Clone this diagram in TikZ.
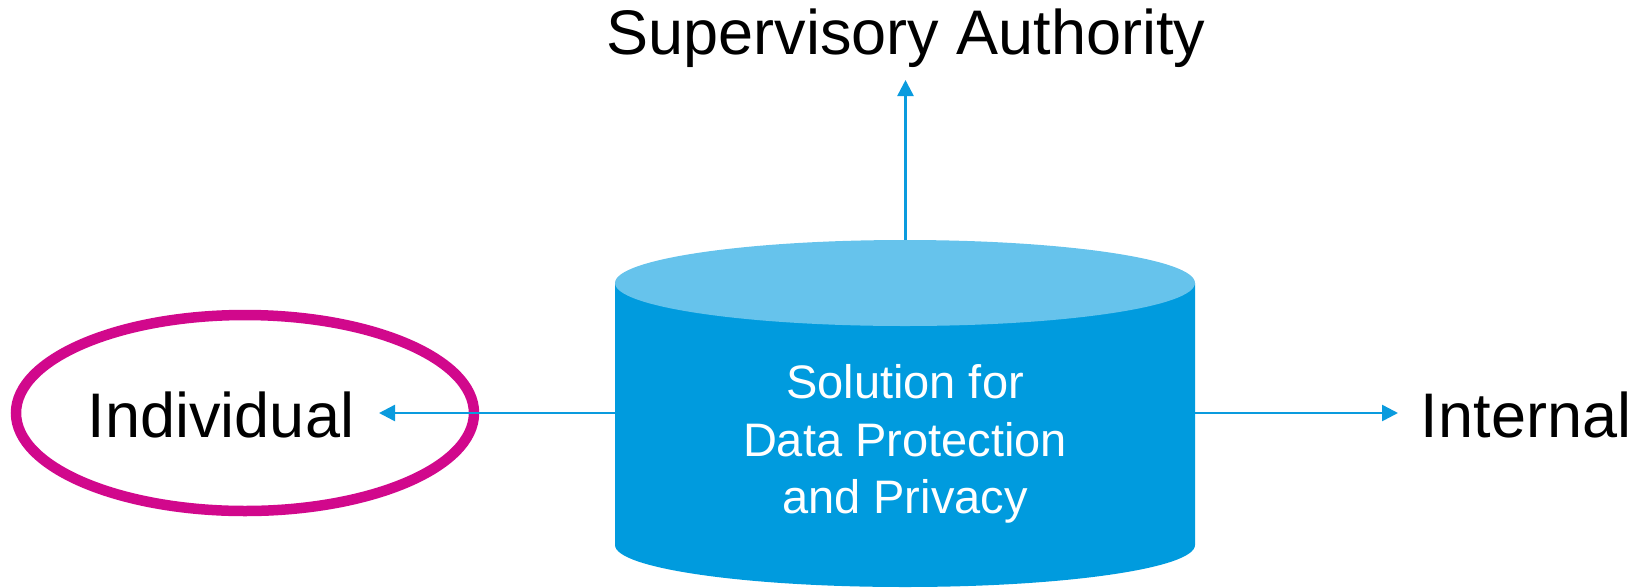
\documentclass[tikz,border=0pt]{standalone}
\usepackage{fontspec}
\setmainfont{Liberation Sans}
\usetikzlibrary{arrows.meta,shapes.geometric}
\definecolor{dbblue}{RGB}{0,155,222}
\definecolor{dbtop}{RGB}{102,195,236}
\definecolor{linkblue}{RGB}{10,155,222}
\definecolor{ringmag}{RGB}{209,8,140}
\tikzset{
  label text/.style={font=\fontsize{63}{75}\selectfont, inner sep=0pt, text=black},
  link/.style={draw=linkblue, line width=2.5pt, -{Triangle[length=16pt,width=16pt]}},
}
\begin{document}
\begin{tikzpicture}[x=1pt,y=-1pt]
\useasboundingbox (0,0) rectangle (1641,587);
% storage cylinder (y axis points down, so the lower rim runs from 180 to 0 degrees)
\fill[dbblue] (615,283) -- (615,545) arc[start angle=180,end angle=0,x radius=290,y radius=42] -- (1195,283) -- cycle;
\fill[dbtop] (905,283) ellipse[x radius=290, y radius=43];
\node[minimum width=580pt, minimum height=347pt, inner sep=0pt] (db) at (905,413.5) {};
\node[font=\fontsize{47}{57.5}\selectfont, text=white, align=center, inner sep=0pt] (dbtext) at (905,444) {Solution for\\Data Protection\\and Privacy};
% recipients
\node[label text, anchor=base] (sup) at (906,54) {Supervisory Authority};
\node[label text, anchor=base] (ind) at (221,437.5) {Individual};
\node[label text, anchor=base] (int) at (1526,437.5) {Internal};
\node[draw=ringmag, line width=10.5pt, ellipse, minimum width=458pt, minimum height=196pt, inner sep=0pt] (ring) at (245,413) {};
\coordinate (supend) at (905.5,80);
\coordinate (indend) at (379,413);
\coordinate (intend) at (1398,413);
% flows out of the store
\draw[link] (db.north -| supend) -- (supend);
\draw[link] (db.west |- indend) -- (indend);
\draw[link] (db.east |- intend) -- (intend);
\end{tikzpicture}
\end{document}
